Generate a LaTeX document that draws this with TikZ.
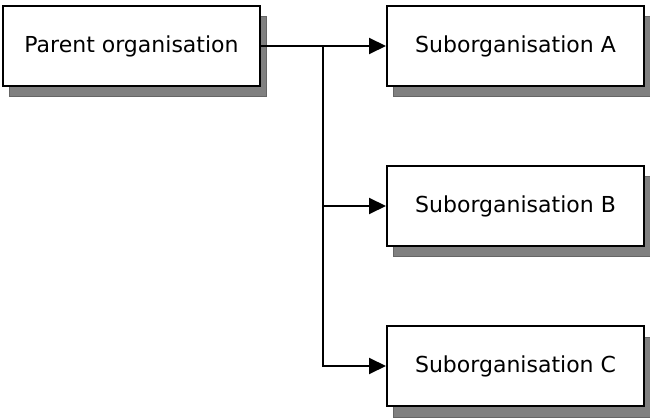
\documentclass[tikz,border=0pt]{standalone}
\usepackage{fontspec}
\setmainfont{DejaVu Sans}
\usetikzlibrary{arrows.meta,shadows}
\begin{document}
\begin{tikzpicture}[x=1pt,y=-1pt,
  orgbox/.style={draw=black, line width=2pt, fill=white, minimum width=257pt, minimum height=80pt,
    inner sep=0pt, font=\fontsize{22pt}{26pt}\selectfont,
    general shadow={shadow xshift=6pt, shadow yshift=-11pt, fill=black!50, draw=black!60, line width=1pt}},
  link/.style={line width=2pt},
  arr/.style={link, -{Triangle[length=17pt,width=16pt]}}]
\useasboundingbox (0,0) rectangle (650,419);
\node[orgbox] (p) at (131.5,46) {Parent organisation};
\node[orgbox] (a) at (515.5,46) {Suborganisation A};
\node[orgbox] (b) at (515.5,206) {Suborganisation B};
\node[orgbox] (c) at (515.5,366) {Suborganisation C};
\coordinate (j) at (323,46);
\draw[arr] (p.east) -- (a.west);
\draw[arr] (j) |- (c.west);
\draw[arr] (j |- b.west) -- (b.west);
\end{tikzpicture}
\end{document}
